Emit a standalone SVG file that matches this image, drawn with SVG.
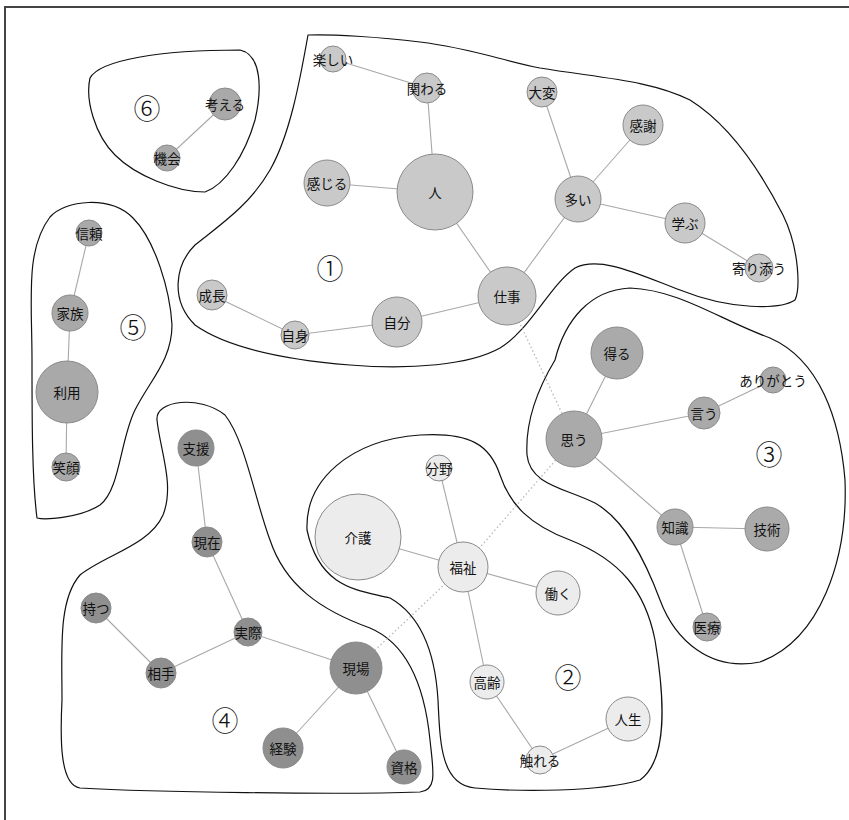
<svg xmlns="http://www.w3.org/2000/svg" width="849" height="820" viewBox="0 0 849 820">
<style>
.bg{fill:#fff}
.frame{stroke:#444;stroke-width:2;fill:none}
.hull{fill:none;stroke:#111;stroke-width:1.2;stroke-linejoin:round}
.e{stroke:#a8a8a8;stroke-width:1.1}
.d{stroke:#b8b8b8;stroke-width:1.3;stroke-dasharray:1.5 2.5}
circle{stroke:#8a8a8a;stroke-width:1}
.c1 circle{fill:#c9c9c9}
.c2 circle{fill:#ececec}
.c3 circle{fill:#aaaaaa}
.c4 circle{fill:#8f8f8f}
.c5 circle{fill:#a9a9a9}
.c6 circle{fill:#a9a9a9}
text{font-family:"Noto Sans CJK JP","Noto Sans CJK SC",sans-serif;font-size:13.5px;fill:#111;text-anchor:middle;dominant-baseline:central}
.num{font-size:27px;font-weight:300}
</style>
<rect class="bg" x="0" y="0" width="849" height="820"/>
<path class="frame" d="M5,820 V7 H849"/>

<g id="hulls">
<path class="hull" d="M308,35 C330,34 380,37 420,42 C470,48 500,60 540,68 C600,78 650,80 690,100 C730,125 760,170 783,215 C800,250 800,290 795,300 C780,310 730,310 680,290 C640,275 600,255 575,268 C550,285 530,330 500,348 C470,365 410,370 350,365 C290,360 230,350 195,325 C170,300 175,265 195,245 C220,225 250,205 270,170 C290,135 300,80 308,35 Z"/>
<path class="hull" d="M555,360 C565,320 590,290 630,288 C680,290 720,320 770,338 C820,360 840,420 845,480 C848,560 820,640 760,662 C710,672 675,640 660,600 C645,560 625,520 595,503 C565,488 530,485 527,455 C525,420 540,385 555,360 Z"/>
<path class="hull" d="M307,530 C305,480 350,440 420,435 C470,432 490,445 500,475 C510,505 530,525 570,540 C620,560 645,590 655,640 C665,700 668,760 640,780 C600,792 520,792 475,788 C440,785 440,740 438,700 C435,650 420,615 390,598 C360,590 320,590 307,530 Z"/>
<path class="hull" d="M157,420 C155,400 200,395 225,415 C245,440 255,500 270,540 C285,585 320,610 370,628 C410,645 425,690 430,740 C433,770 438,790 420,792 C340,795 150,792 80,788 C60,785 60,740 62,700 C62,650 58,600 80,575 C105,555 150,545 163,515 C175,485 160,450 157,420 Z"/>
<path class="hull" d="M50,217 C65,200 110,195 133,218 C155,240 170,290 172,325 C172,360 150,380 135,410 C120,440 120,490 100,505 C80,518 45,520 37,518 C32,480 32,420 32,360 C32,300 25,250 50,217 Z"/>
<path class="hull" d="M90,78 C100,60 160,50 240,50 C262,55 262,90 255,120 C245,155 225,185 205,192 C175,192 135,175 115,155 C95,135 85,100 90,78 Z"/>
</g>

<g id="connectors">
<line class="d" x1="507" y1="296" x2="574" y2="439"/>
<line class="d" x1="574" y1="439" x2="463" y2="567"/>
<line class="d" x1="463" y1="567" x2="356" y2="668"/>
<line class="e" x1="333" y1="59" x2="427" y2="88"/>
<line class="e" x1="427" y1="88" x2="435" y2="192"/>
<line class="e" x1="327" y1="183" x2="435" y2="192"/>
<line class="e" x1="435" y1="192" x2="507" y2="296"/>
<line class="e" x1="507" y1="296" x2="578" y2="199"/>
<line class="e" x1="578" y1="199" x2="542" y2="92"/>
<line class="e" x1="578" y1="199" x2="643" y2="125"/>
<line class="e" x1="578" y1="199" x2="685" y2="223"/>
<line class="e" x1="685" y1="223" x2="759" y2="268"/>
<line class="e" x1="507" y1="296" x2="397" y2="322"/>
<line class="e" x1="397" y1="322" x2="295" y2="335"/>
<line class="e" x1="295" y1="335" x2="212" y2="295"/>
<line class="e" x1="574" y1="439" x2="617" y2="353"/>
<line class="e" x1="574" y1="439" x2="704" y2="413"/>
<line class="e" x1="704" y1="413" x2="773" y2="380"/>
<line class="e" x1="574" y1="439" x2="675" y2="527"/>
<line class="e" x1="675" y1="527" x2="767" y2="529"/>
<line class="e" x1="675" y1="527" x2="707" y2="627"/>
<line class="e" x1="89" y1="233" x2="70" y2="313"/>
<line class="e" x1="70" y1="313" x2="67" y2="392"/>
<line class="e" x1="67" y1="392" x2="66" y2="467"/>
<line class="e" x1="225" y1="104" x2="167" y2="158"/>
<line class="e" x1="196" y1="448" x2="207" y2="542"/>
<line class="e" x1="207" y1="542" x2="248" y2="632"/>
<line class="e" x1="248" y1="632" x2="161" y2="673"/>
<line class="e" x1="161" y1="673" x2="96" y2="608"/>
<line class="e" x1="248" y1="632" x2="356" y2="668"/>
<line class="e" x1="356" y1="668" x2="283" y2="748"/>
<line class="e" x1="356" y1="668" x2="404" y2="767"/>
<line class="e" x1="439" y1="468" x2="463" y2="567"/>
<line class="e" x1="358" y1="537" x2="463" y2="567"/>
<line class="e" x1="463" y1="567" x2="558" y2="593"/>
<line class="e" x1="463" y1="567" x2="487" y2="682"/>
<line class="e" x1="487" y1="682" x2="540" y2="760"/>
<line class="e" x1="540" y1="760" x2="628" y2="719"/>
</g>

<g id="labels">
<text class="num" x="330" y="267">①</text>
<text class="num" x="568" y="676">②</text>
<text class="num" x="769" y="453">③</text>
<text class="num" x="225" y="719">④</text>
<text class="num" x="133" y="326">⑤</text>
<text class="num" x="147" y="107">⑥</text>
</g>

<g class="c1">
<g id="n-tanoshii"><circle cx="333" cy="59" r="13"/><text x="333" y="59">楽しい</text></g>
<g id="n-kakawaru"><circle cx="427" cy="88" r="15"/><text x="427" y="88">関わる</text></g>
<g id="n-taihen"><circle cx="542" cy="92" r="15"/><text x="542" y="92">大変</text></g>
<g id="n-kansha"><circle cx="643" cy="125" r="20"/><text x="643" y="125">感謝</text></g>
<g id="n-kanjiru"><circle cx="327" cy="183" r="23"/><text x="327" y="183">感じる</text></g>
<g id="n-hito"><circle cx="435" cy="192" r="38"/><text x="435" y="192">人</text></g>
<g id="n-ooi"><circle cx="578" cy="199" r="23"/><text x="578" y="199">多い</text></g>
<g id="n-manabu"><circle cx="685" cy="223" r="20"/><text x="685" y="223">学ぶ</text></g>
<g id="n-yorisou"><circle cx="759" cy="268" r="14"/><text x="759" y="268">寄り添う</text></g>
<g id="n-shigoto"><circle cx="507" cy="296" r="29"/><text x="507" y="296">仕事</text></g>
<g id="n-jibun"><circle cx="397" cy="322" r="25"/><text x="397" y="322">自分</text></g>
<g id="n-jishin"><circle cx="295" cy="335" r="14"/><text x="295" y="335">自身</text></g>
<g id="n-seicho"><circle cx="212" cy="295" r="15"/><text x="212" y="295">成長</text></g>
</g>

<g class="c3">
<g id="n-eru"><circle cx="617" cy="353" r="26"/><text x="617" y="353">得る</text></g>
<g id="n-arigatou"><circle cx="773" cy="380" r="13"/><text x="773" y="380">ありがとう</text></g>
<g id="n-iu"><circle cx="704" cy="413" r="16"/><text x="704" y="413">言う</text></g>
<g id="n-omou"><circle cx="574" cy="439" r="28"/><text x="574" y="439">思う</text></g>
<g id="n-chishiki"><circle cx="675" cy="527" r="18"/><text x="675" y="527">知識</text></g>
<g id="n-gijutsu"><circle cx="767" cy="529" r="22"/><text x="767" y="529">技術</text></g>
<g id="n-iryo"><circle cx="707" cy="627" r="14"/><text x="707" y="627">医療</text></g>
</g>

<g class="c5">
<g id="n-shinrai"><circle cx="89" cy="233" r="13"/><text x="89" y="233">信頼</text></g>
<g id="n-kazoku"><circle cx="70" cy="313" r="18"/><text x="70" y="313">家族</text></g>
<g id="n-riyo"><circle cx="67" cy="392" r="31"/><text x="67" y="392">利用</text></g>
<g id="n-egao"><circle cx="66" cy="467" r="14"/><text x="66" y="467">笑顔</text></g>
</g>

<g class="c6">
<g id="n-kangaeru"><circle cx="225" cy="104" r="16"/><text x="225" y="104">考える</text></g>
<g id="n-kikai"><circle cx="167" cy="158" r="13"/><text x="167" y="158">機会</text></g>
</g>

<g class="c4">
<g id="n-shien"><circle cx="196" cy="448" r="18"/><text x="196" y="448">支援</text></g>
<g id="n-genzai"><circle cx="207" cy="542" r="15"/><text x="207" y="542">現在</text></g>
<g id="n-motsu"><circle cx="96" cy="608" r="15"/><text x="96" y="608">持つ</text></g>
<g id="n-jissai"><circle cx="248" cy="632" r="14"/><text x="248" y="632">実際</text></g>
<g id="n-aite"><circle cx="161" cy="673" r="15"/><text x="161" y="673">相手</text></g>
<g id="n-genba"><circle cx="356" cy="668" r="26"/><text x="356" y="668">現場</text></g>
<g id="n-keiken"><circle cx="283" cy="748" r="20"/><text x="283" y="748">経験</text></g>
<g id="n-shikaku"><circle cx="404" cy="767" r="17"/><text x="404" y="767">資格</text></g>
</g>

<g class="c2">
<g id="n-bunya"><circle cx="439" cy="468" r="13"/><text x="439" y="468">分野</text></g>
<g id="n-kaigo"><circle cx="358" cy="537" r="43"/><text x="358" y="537">介護</text></g>
<g id="n-fukushi"><circle cx="463" cy="567" r="25"/><text x="463" y="567">福祉</text></g>
<g id="n-hataraku"><circle cx="558" cy="593" r="22"/><text x="558" y="593">働く</text></g>
<g id="n-korei"><circle cx="487" cy="682" r="17"/><text x="487" y="682">高齢</text></g>
<g id="n-jinsei"><circle cx="628" cy="719" r="22"/><text x="628" y="719">人生</text></g>
<g id="n-fureru"><circle cx="540" cy="760" r="14"/><text x="540" y="760">触れる</text></g>
</g>
</svg>
